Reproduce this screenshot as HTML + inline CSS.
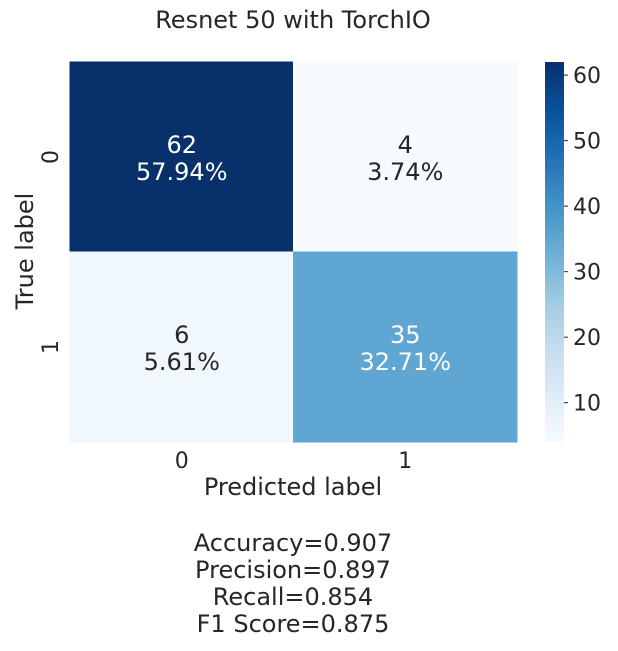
<!DOCTYPE html>
<html><head><meta charset="utf-8"><style>
body{margin:0;background:#fff}
svg text{font-family:"DejaVu Sans","Liberation Sans",sans-serif;fill:#262626}
</style></head><body>
<svg id="c" width="618" height="646" xmlns="http://www.w3.org/2000/svg">
<defs><linearGradient id="g" x1="0" y1="1" x2="0" y2="0">
<stop offset="0" stop-color="#f7fbff"/><stop offset="0.125" stop-color="#deebf7"/><stop offset="0.25" stop-color="#c6dbef"/><stop offset="0.375" stop-color="#9ecae1"/><stop offset="0.5" stop-color="#6baed6"/><stop offset="0.625" stop-color="#4292c6"/><stop offset="0.75" stop-color="#2171b5"/><stop offset="0.875" stop-color="#08519c"/><stop offset="1" stop-color="#08306b"/></linearGradient></defs>
<text x="293" y="28" font-size="24" text-anchor="middle">Resnet 50 with TorchIO</text>
<g id="cells" shape-rendering="crispEdges"></g>
<rect x="545" y="62" width="19" height="380" fill="url(#g)"/>
<g id="cbticks"></g>
<text x="293" y="495" font-size="24" text-anchor="middle">Predicted label</text>
<text transform="translate(33,251) rotate(-90)" font-size="24" text-anchor="middle">True label</text>
<g font-size="24" text-anchor="middle">
<text x="293" y="551">Accuracy=0.907</text>
<text x="293" y="578">Precision=0.897</text>
<text x="293" y="605">Recall=0.854</text>
<text x="293" y="632">F1 Score=0.875</text>
</g>
</svg>
<script>
const categories=["0","1"];
const counts=[[62,4],[6,35]];
const percents=["57.94%","3.74%","5.61%","32.71%"];
const cbTicks=[10,20,30,40,50,60];
const vmin=4,vmax=62;
const NS="http://www.w3.org/2000/svg";
const X0=70,Y0=62,CW=223.5,CH=190;
const stops=[[247,251,255],[222,235,247],[198,219,239],[158,202,225],[107,174,214],[66,146,198],[33,113,181],[8,81,156],[8,48,107]];
function color(v){let t=(v-vmin)/(vmax-vmin)*8;let i=Math.min(7,Math.floor(t)),f=t-i;const a=stops[i],b=stops[i+1];return "rgb("+a.map((c,k)=>Math.round(c+(b[k]-c)*f)).join(",")+")";}
function cbY(v){return 442-(v-vmin)/(vmax-vmin)*380;}
function mk(tag,attrs,parent){const e=document.createElementNS(NS,tag);for(const k in attrs)e.setAttribute(k,attrs[k]);parent.appendChild(e);return e;}
const cells=document.getElementById('cells');
const svg=document.getElementById('c');
counts.forEach((row,r)=>row.forEach((v,c)=>{
 const x=X0+c*CW,y=Y0+r*CH;
 const rc=mk('rect',{x:x-0.5,y:y-0.5,width:CW+1,height:CH+1,fill:color(v)},cells);
 
 
 const light=(v-vmin)/(vmax-vmin)>0.45;
 const t=mk('text',{x:x+CW/2,y:y+CH/2-4,'font-size':24,'text-anchor':'middle'},svg);
 
 
 t.style.fill=light?'#fff':'#262626';
 t.textContent=v;
 const t2=mk('text',{x:x+CW/2,y:y+CH/2+23,'font-size':24,'text-anchor':'middle'},svg);
 
 
 t2.style.fill=light?'#fff':'#262626';
 t2.textContent=percents[r*2+c];
}));
categories.forEach((cat,i)=>{
 const tx=mk('text',{x:X0+i*CW+CW/2,y:468,'font-size':22,'text-anchor':'middle'},svg);
 
 
 tx.textContent=cat;
 const ty=mk('text',{transform:'translate(58,'+(Y0+i*CH+CH/2)+') rotate(-90)','font-size':22,'text-anchor':'middle'},svg);
 
 
 ty.textContent=cat;
});
const cb=document.getElementById('cbticks');
cbTicks.forEach(v=>{
 const y=cbY(v);
 const l=mk('line',{x1:564,x2:568,y1:y,y2:y,stroke:'#262626','stroke-width':1},cb);
 
 
 const t=mk('text',{x:573,y:y+8,'font-size':22},cb);
 
 
 t.textContent=v;
});
</script>
</body></html>
